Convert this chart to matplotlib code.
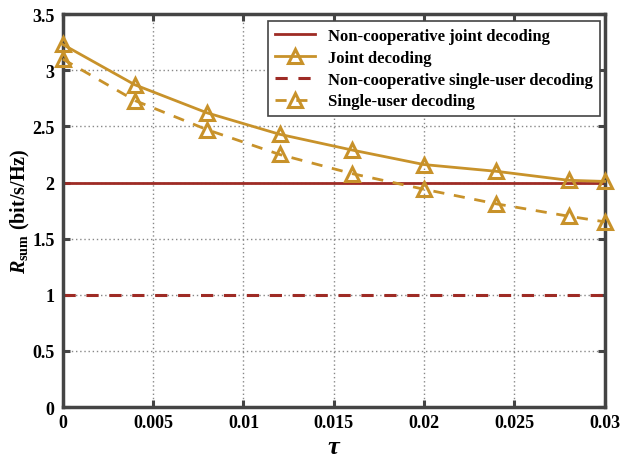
import matplotlib
matplotlib.use("Agg")
import matplotlib.pyplot as plt

tau = [0, 0.004, 0.008, 0.012, 0.016, 0.020, 0.024, 0.028, 0.030]
joint = [3.23, 2.87, 2.62, 2.43, 2.29, 2.16, 2.10, 2.02, 2.01]
single = [3.10, 2.73, 2.47, 2.25, 2.08, 1.94, 1.81, 1.70, 1.65]
noncoop_joint = 2.0
noncoop_single = 1.0

xticks = [0, 0.005, 0.01, 0.015, 0.02, 0.025, 0.03]
xticklabels = ["0", "0.005", "0.01", "0.015", "0.02", "0.025", "0.03"]
yticks = [0, 0.5, 1, 1.5, 2, 2.5, 3, 3.5]
yticklabels = ["0", "0.5", "1", "1.5", "2", "2.5", "3", "3.5"]

plt.rcParams['font.family'] = ['Liberation Serif', 'DejaVu Serif']
plt.rcParams['mathtext.fontset'] = 'custom'
plt.rcParams['mathtext.rm'] = 'Liberation Serif:bold'
plt.rcParams['mathtext.it'] = 'Liberation Serif:italic:bold'
plt.rcParams['mathtext.bf'] = 'Liberation Serif:bold'

gold = '#C8922A'
red = '#9E2B25'
spine = '#444444'

fig = plt.figure(figsize=(6.28, 4.60), dpi=100)
ax = fig.add_axes([0.100, 0.113, 0.863, 0.854])

ax.plot([0, 0.03], [noncoop_joint]*2, color=red, lw=2.0, label='Non-cooperative joint decoding')
ax.plot(tau, joint, color=gold, lw=2.0, marker='^', ms=10, mfc='none', mec=gold, mew=2.2,
        label='Joint decoding', clip_on=False, zorder=4)
ax.plot([0, 0.03], [noncoop_single]*2, color=red, lw=2.2, ls=(0, (4, 3.5)),
        label='Non-cooperative single-user decoding')
ax.plot(tau, single, color=gold, lw=2.0, ls=(0, (4, 3.5)), marker='^', ms=10, mfc='none',
        mec=gold, mew=2.2, label='Single-user decoding', clip_on=False, zorder=4)

ax.set_xlim(0, 0.03)
ax.set_ylim(0, 3.5)
ax.set_xticks(xticks)
ax.set_xticklabels(xticklabels, fontweight='bold', fontsize=13)
ax.set_yticks(yticks)
ax.set_yticklabels(yticklabels, fontweight='bold', fontsize=13)
ax.tick_params(direction='in', length=5, width=2.2, color=spine, top=True, right=True)
ax.tick_params(axis='x', pad=5)
ax.tick_params(axis='y', pad=6)
ax.grid(True, ls=(0, (1, 2)), color='#888888', lw=1.0)
for s in ax.spines.values():
    s.set_linewidth(2.5)
    s.set_color(spine)

ax.set_xlabel('τ', fontsize=19, fontstyle='italic', fontweight='bold', va='bottom')
ax.xaxis.set_label_coords(0.5, -0.1298)
ax.set_ylabel(r'$R_{\mathrm{sum}}$ (bit/s/Hz)', fontsize=14.5, fontweight='bold', va='center')
ax.yaxis.set_label_coords(-0.078, 0.5)

leg = ax.legend(loc='upper right', bbox_to_anchor=(0.991, 0.982),
                prop={'weight': 'bold', 'size': 12}, fancybox=False, framealpha=1,
                edgecolor=spine, handlelength=2.4, handletextpad=0.8,
                labelspacing=0.35, borderpad=0.4, borderaxespad=0)
leg.get_frame().set_linewidth(1.2)

fig.savefig('out.png', dpi=100)
